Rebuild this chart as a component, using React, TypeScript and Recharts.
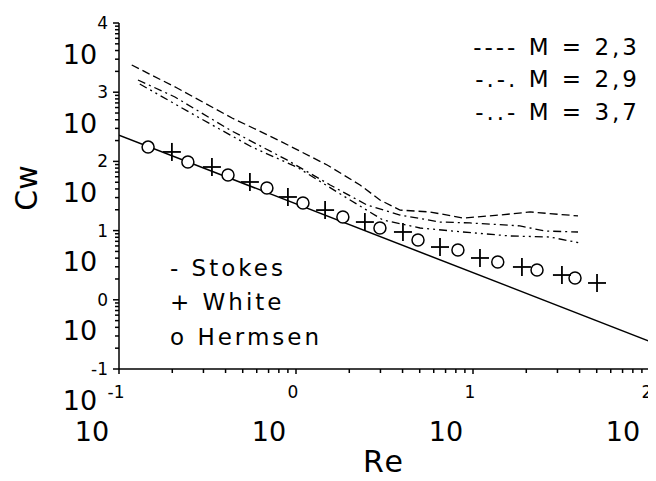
import React from "react"
import {
  ComposedChart,
  Line,
  Scatter,
  XAxis,
  YAxis,
  ReferenceLine,
} from "recharts"

// Re vs Cw, log-log
const stokes = [
  { re: 0.1, cw: 240 },
  { re: 100, cw: 0.25 },
]

const white = [
  { re: 0.199, cw: 137 },
  { re: 0.335, cw: 83 },
  { re: 0.549, cw: 50.4 },
  { re: 0.9, cw: 30.6 },
  { re: 1.46, cw: 19.8 },
  { re: 2.45, cw: 13.3 },
  { re: 4.02, cw: 9.55 },
  { re: 6.51, cw: 5.79 },
  { re: 10.95, cw: 4.02 },
  { re: 18.9, cw: 2.98 },
  { re: 31.8, cw: 2.28 },
  { re: 50.2, cw: 1.75 },
]

const hermsen = [
  { re: 0.146, cw: 161 },
  { re: 0.245, cw: 98 },
  { re: 0.413, cw: 63.5 },
  { re: 0.685, cw: 41.3 },
  { re: 1.095, cw: 25.1 },
  { re: 1.84, cw: 15.7 },
  { re: 2.98, cw: 10.9 },
  { re: 4.89, cw: 7.31 },
  { re: 8.22, cw: 5.24 },
  { re: 13.8, cw: 3.52 },
  { re: 23.0, cw: 2.7 },
  { re: 37.7, cw: 2.07 },
]

const m23 = [
  { re: 0.118, cw: 2470 },
  { re: 0.213, cw: 1150 },
  { re: 0.435, cw: 424 },
  { re: 0.791, cw: 204 },
  { re: 1.5, cw: 88.7 },
  { re: 2.3, cw: 45.6 },
  { re: 2.98, cw: 27.7 },
  { re: 3.87, cw: 19.8 },
  { re: 5.71, cw: 18.6 },
  { re: 8.78, cw: 15.2 },
  { re: 14.2, cw: 16.8 },
  { re: 21.0, cw: 18.6 },
  { re: 39.2, cw: 16.3 },
]

const m29 = [
  { re: 0.128, cw: 1500 },
  { re: 0.207, cw: 853 },
  { re: 0.424, cw: 284 },
  { re: 0.889, cw: 105 },
  { re: 1.56, cw: 45.6 },
  { re: 2.52, cw: 23.4 },
  { re: 3.87, cw: 16.8 },
  { re: 6.51, cw: 13.3 },
  { re: 9.62, cw: 12.9 },
  { re: 18.4, cw: 11.7 },
  { re: 25.5, cw: 9.86 },
  { re: 39.2, cw: 9.55 },
]

const m37 = [
  { re: 0.131, cw: 1314 },
  { re: 0.279, cw: 438 },
  { re: 0.564, cw: 161 },
  { re: 1.01, cw: 83 },
  { re: 2.02, cw: 27.7 },
  { re: 3.1, cw: 14.2 },
  { re: 5.02, cw: 10.9 },
  { re: 8.78, cw: 9.55 },
  { re: 16.2, cw: 8.36 },
  { re: 27.2, cw: 8.08 },
  { re: 40.2, cw: 6.62 },
]

const xDecades = [0.1, 1, 10, 100]
const yDecades = [0.1, 1, 10, 100, 1000, 10000]
const minorSteps = [2, 3, 4, 5, 6, 7, 8, 9]

const curveLegend = ["---- M = 2,3", "-.-. M = 2,9", "-..- M = 3,7"]
const markLegend = ["- Stokes", "+ White", "o Hermsen"]

const withMinor = (decades: number[]) =>
  decades.flatMap((d, i) =>
    i < decades.length - 1
      ? [d, ...minorSteps.map((s) => +(d * s).toPrecision(6))]
      : [d]
  )

const isMajor = (v: number) => {
  const e = Math.log10(v)
  return Math.abs(e - Math.round(e)) < 1e-6
}

const YTick = ({ x, y, payload }: any) => {
  const v = payload.value
  const major = isMajor(v)
  return (
    <g>
      <line x1={x - (major ? 6 : 4)} x2={x} y1={y} y2={y} stroke="#000" strokeWidth={1.5} />
      {major && (
        <text x={x - 11} y={y} textAnchor="end" dominantBaseline="central" fontSize={17} fill="#000">
          {Math.round(Math.log10(v))}
        </text>
      )}
      {major && (
        <text x={x - 39} y={y + 31} textAnchor="middle" dominantBaseline="central" fontSize={27} fill="#000">
          10
        </text>
      )}
    </g>
  )
}

const XTick = ({ x, y, payload }: any) => {
  const v = payload.value
  const major = isMajor(v)
  return (
    <g>
      <line x1={x} x2={x} y1={y} y2={y + (major ? 5 : 4)} stroke="#000" strokeWidth={1.5} />
      {major && (
        <text x={x - 3} y={y + 23} textAnchor="middle" dominantBaseline="central" fontSize={17} fill="#000">
          {Math.round(Math.log10(v))}
        </text>
      )}
      {major && (
        <text x={x - 27} y={y + 62} textAnchor="middle" dominantBaseline="central" fontSize={27} fill="#000">
          10
        </text>
      )}
    </g>
  )
}

const Ring = ({ cx, cy }: any) => (
  <circle cx={cx} cy={cy} r={6} fill="#fff" stroke="#000" strokeWidth={1.5} />
)

const Plus = ({ cx, cy }: any) => (
  <g stroke="#000" strokeWidth={1.8}>
    <line x1={cx - 9} x2={cx + 9} y1={cy} y2={cy} />
    <line x1={cx} x2={cx} y1={cy - 9} y2={cy + 9} />
  </g>
)

const legendText: React.CSSProperties = {
  position: "absolute",
  fontSize: 23,
  lineHeight: 1,
  letterSpacing: 3,
  whiteSpace: "pre",
  color: "#000",
}

export default function App() {
  return (
    <div style={{ position: "relative", width: 648, height: 473, fontFamily: "DejaVu Sans", background: "#fff" }}>
      <ComposedChart width={648} height={473} margin={{ top: 15, right: 6, left: 0, bottom: 0 }}>
        <XAxis
          dataKey="re"
          type="number"
          scale="log"
          domain={[0.1, 100]}
          allowDataOverflow
          ticks={withMinor(xDecades)}
          interval={0}
          tickSize={0}
          tickMargin={0}
          height={112}
          tick={<XTick />}
          axisLine={{ stroke: "#000", strokeWidth: 1.5 }}
        />
        <YAxis
          dataKey="cw"
          type="number"
          scale="log"
          domain={[0.1, 10000]}
          allowDataOverflow
          ticks={withMinor(yDecades)}
          interval={0}
          tickSize={0}
          tickMargin={0}
          width={111}
          tick={<YTick />}
          axisLine={{ stroke: "#000", strokeWidth: 1.5 }}
        />
        <ReferenceLine x={100} stroke="#000" strokeWidth={1.5} />
        <Line data={stokes} dataKey="cw" stroke="#000" strokeWidth={1.5} dot={false} isAnimationActive={false} />
        <Line data={m23} dataKey="cw" stroke="#000" strokeWidth={1.3} strokeDasharray="8 4" dot={false} isAnimationActive={false} />
        <Line data={m29} dataKey="cw" stroke="#000" strokeWidth={1.3} strokeDasharray="8 4 2 4" dot={false} isAnimationActive={false} />
        <Line data={m37} dataKey="cw" stroke="#000" strokeWidth={1.3} strokeDasharray="8 4 2 4 2 4" dot={false} isAnimationActive={false} />
        <Scatter data={hermsen} dataKey="cw" shape={<Ring />} isAnimationActive={false} />
        <Scatter data={white} dataKey="cw" shape={<Plus />} isAnimationActive={false} />
      </ComposedChart>

      {curveLegend.map((t, i) => (
        <div key={t} style={{ ...legendText, right: 16, top: [28, 60, 93][i] }}>
          {t}
        </div>
      ))}
      {markLegend.map((t, i) => (
        <div key={t} style={{ ...legendText, left: 162, top: [249, 283, 318][i] }}>
          {t}
        </div>
      ))}
      <div
        style={{
          position: "absolute",
          left: 19,
          top: 180,
          fontSize: 30,
          lineHeight: 1,
          transform: "translate(-50%, -50%) rotate(-90deg)",
        }}
      >
        Cw
      </div>
      <div
        style={{
          position: "absolute",
          left: 376,
          top: 454,
          fontSize: 30,
          lineHeight: 1,
          letterSpacing: 2,
          transform: "translate(-50%, -50%)",
        }}
      >
        Re
      </div>
    </div>
  )
}
